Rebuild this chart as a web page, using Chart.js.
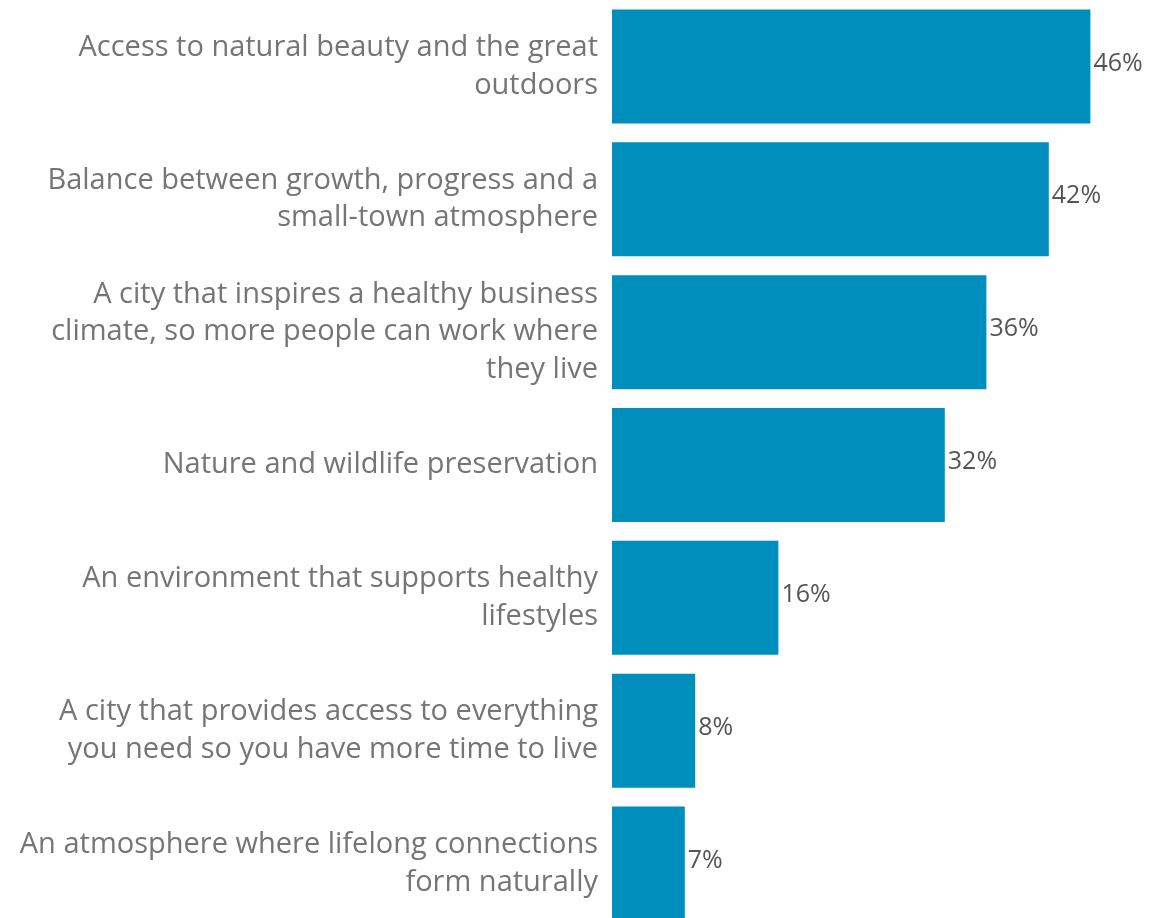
<!DOCTYPE html>
<html>
<head>
<meta charset="utf-8">
<script src="https://cdn.jsdelivr.net/npm/chart.js@4"></script>
<style>
  html, body { margin: 0; padding: 0; background: #fff; overflow: hidden; }
  #wrap { position: relative; width: 1149px; height: 930px; }
</style>
</head>
<body>
<div id="wrap"><canvas id="chart"></canvas></div>
<script>
// priorities, top to bottom
const labels = [
  ["Access to natural beauty and the great", "outdoors"],
  ["Balance between growth, progress and a", "small-town atmosphere"],
  ["A city that inspires a healthy business", "climate, so more people can work where", "they live"],
  ["Nature and wildlife preservation"],
  ["An environment that supports healthy", "lifestyles"],
  ["A city that provides access to everything", "you need so you have more time to live"],
  ["An atmosphere where lifelong connections", "form naturally"]
];
const values = [46, 42, 36, 32, 16, 8, 7];

const barColor = "#008fbc";

// percentage text right after the end of each bar
const valueLabels = {
  id: "valueLabels",
  afterDatasetsDraw(chart) {
    const ctx = chart.ctx;
    const meta = chart.getDatasetMeta(0);
    ctx.save();
    ctx.font = "25px 'Open Sans'";
    ctx.fillStyle = "#555";
    ctx.textAlign = "left";
    ctx.textBaseline = "middle";
    meta.data.forEach((bar, i) => {
      ctx.fillText(values[i] + "%", bar.x + 3, bar.y - 3);
    });
    ctx.restore();
  }
};

new Chart(document.getElementById("chart"), {
  type: "bar",
  data: {
    labels,
    datasets: [{
      data: values,
      backgroundColor: barColor,
      borderWidth: 0,
      categoryPercentage: 1,
      barPercentage: 0.858
    }]
  },
  options: {
    indexAxis: "y",
    responsive: true,
    maintainAspectRatio: false,
    animation: false,
    layout: { padding: { top: 0, right: 17, bottom: 0, left: 0 } },
    plugins: {
      legend: { display: false },
      tooltip: { enabled: false }
    },
    scales: {
      x: {
        display: false,
        min: 0,
        max: 50
      },
      y: {
        grid: { display: false, drawTicks: false },
        border: { display: false },
        afterFit: s => {
          s.width = 612;
          s.paddingTop = 0;
          s.paddingBottom = 0;
        },
        ticks: {
          padding: 14,
          color: "#757575",
          font: { family: "'Open Sans'", size: 29, lineHeight: 1.3 }
        }
      }
    }
  },
  plugins: [valueLabels]
});
</script>
</body>
</html>
